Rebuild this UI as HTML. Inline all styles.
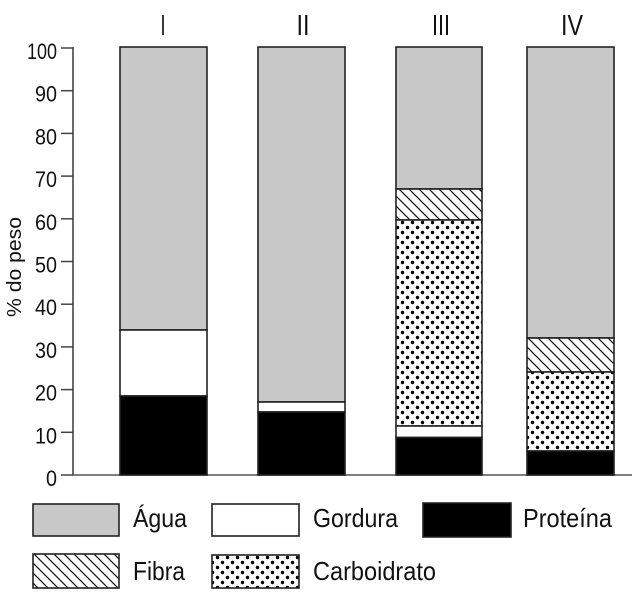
<!DOCTYPE html>
<html>
<head>
<meta charset="utf-8">
<style>
  html,body{margin:0;padding:0;background:#fff;}
  svg{display:block;}
  text{font-family:"Liberation Sans",Arial,sans-serif;fill:#111;}
</style>
</head>
<body>
<svg width="643" height="603" viewBox="0 0 643 603" xmlns="http://www.w3.org/2000/svg">
  <defs>
    <pattern id="hatch" patternUnits="userSpaceOnUse" width="10" height="10">
      <rect width="10" height="10" fill="#fff"/>
      <path d="M0,0 L10,10 M-2,8 L2,12 M8,-2 L12,2" stroke="#111" stroke-width="1.2"/>
    </pattern>
    <pattern id="dots" patternUnits="userSpaceOnUse" width="10" height="10">
      <rect width="10" height="10" fill="#fff"/>
      <circle cx="2.5" cy="2.5" r="1.7" fill="#000"/>
      <circle cx="7.5" cy="7.5" r="1.7" fill="#000"/>
    </pattern>
  </defs>

  <!-- Roman numeral labels -->
  <text x="163" y="35" font-size="29" text-anchor="middle" textLength="5" lengthAdjust="spacingAndGlyphs">I</text>
  <text x="303" y="35" font-size="29" text-anchor="middle" textLength="13" lengthAdjust="spacingAndGlyphs">II</text>
  <text x="441" y="35" font-size="29" text-anchor="middle" textLength="18" lengthAdjust="spacingAndGlyphs">III</text>
  <text x="572" y="35" font-size="29" text-anchor="middle" textLength="22" lengthAdjust="spacingAndGlyphs">IV</text>

  <!-- Axes -->
  <line x1="73" y1="47" x2="73" y2="475.5" stroke="#444" stroke-width="1.6"/>
  <line x1="72.2" y1="475" x2="632" y2="475" stroke="#555" stroke-width="1.6"/>

  <!-- Ticks and labels -->
  <g stroke="#444" stroke-width="1.5">
    <line x1="61" y1="48" x2="73" y2="48"/>
    <line x1="61" y1="90.7" x2="73" y2="90.7"/>
    <line x1="61" y1="133.4" x2="73" y2="133.4"/>
    <line x1="61" y1="176.1" x2="73" y2="176.1"/>
    <line x1="61" y1="218.8" x2="73" y2="218.8"/>
    <line x1="61" y1="261.5" x2="73" y2="261.5"/>
    <line x1="61" y1="304.2" x2="73" y2="304.2"/>
    <line x1="61" y1="346.9" x2="73" y2="346.9"/>
    <line x1="61" y1="389.6" x2="73" y2="389.6"/>
    <line x1="61" y1="432.3" x2="73" y2="432.3"/>
    <line x1="61" y1="475" x2="73" y2="475"/>
  </g>
  <g font-size="22" text-anchor="end">
    <text x="57" y="59" textLength="30" lengthAdjust="spacingAndGlyphs">100</text>
    <text x="57" y="101.7" textLength="22" lengthAdjust="spacingAndGlyphs">90</text>
    <text x="57" y="144.4" textLength="22" lengthAdjust="spacingAndGlyphs">80</text>
    <text x="57" y="187.1" textLength="22" lengthAdjust="spacingAndGlyphs">70</text>
    <text x="57" y="229.8" textLength="22" lengthAdjust="spacingAndGlyphs">60</text>
    <text x="57" y="272.5" textLength="22" lengthAdjust="spacingAndGlyphs">50</text>
    <text x="57" y="315.2" textLength="22" lengthAdjust="spacingAndGlyphs">40</text>
    <text x="57" y="357.9" textLength="22" lengthAdjust="spacingAndGlyphs">30</text>
    <text x="57" y="400.6" textLength="22" lengthAdjust="spacingAndGlyphs">20</text>
    <text x="57" y="443.3" textLength="22" lengthAdjust="spacingAndGlyphs">10</text>
    <text x="57" y="486" textLength="11" lengthAdjust="spacingAndGlyphs">0</text>
  </g>

  <!-- Y label -->
  <text transform="translate(21,267) rotate(-90)" font-size="20" text-anchor="middle" textLength="100" lengthAdjust="spacingAndGlyphs">% do peso</text>

  <!-- Bar I -->
  <g stroke="#222" stroke-width="1.6">
    <rect x="120" y="47" width="87" height="283" fill="#c8c8c8"/>
    <rect x="120" y="330" width="87" height="66" fill="#fff"/>
    <rect x="120" y="396" width="87" height="79" fill="#000"/>
  </g>

  <!-- Bar II -->
  <g stroke="#222" stroke-width="1.6">
    <rect x="258" y="47" width="87" height="355" fill="#c8c8c8"/>
    <rect x="258" y="402" width="87" height="10" fill="#fff"/>
    <rect x="258" y="412" width="87" height="63" fill="#000"/>
  </g>

  <!-- Bar III -->
  <g stroke="#222" stroke-width="1.6">
    <rect x="396" y="47" width="86" height="142" fill="#c8c8c8"/>
    <rect x="396" y="189" width="86" height="31" fill="url(#hatch)"/>
    <rect x="396" y="220" width="86" height="206" fill="url(#dots)"/>
    <rect x="396" y="426" width="86" height="11.5" fill="#fff"/>
    <rect x="396" y="437.5" width="86" height="37.5" fill="#000"/>
  </g>

  <!-- Bar IV -->
  <g stroke="#222" stroke-width="1.6">
    <rect x="527" y="47" width="87" height="291" fill="#c8c8c8"/>
    <rect x="527" y="338" width="87" height="34" fill="url(#hatch)"/>
    <rect x="527" y="372" width="87" height="79" fill="url(#dots)"/>
    <rect x="527" y="451" width="87" height="24" fill="#000"/>
  </g>

  <!-- Legend -->
  <g stroke="#222" stroke-width="1.6">
    <rect x="33" y="504" width="86" height="32" fill="#c8c8c8"/>
    <rect x="212" y="504" width="87" height="32" fill="#fff"/>
    <rect x="423" y="503" width="88" height="34" fill="#000"/>
    <rect x="33" y="554" width="86" height="34" fill="url(#hatch)"/>
    <rect x="212" y="555" width="87" height="33" fill="url(#dots)"/>
  </g>
  <g font-size="26">
    <text x="133" y="527" textLength="54" lengthAdjust="spacingAndGlyphs">Água</text>
    <text x="313" y="527" textLength="85" lengthAdjust="spacingAndGlyphs">Gordura</text>
    <text x="523" y="527" textLength="89" lengthAdjust="spacingAndGlyphs">Proteína</text>
    <text x="133" y="580" textLength="52" lengthAdjust="spacingAndGlyphs">Fibra</text>
    <text x="313" y="580" textLength="123" lengthAdjust="spacingAndGlyphs">Carboidrato</text>
  </g>
</svg>
</body>
</html>
